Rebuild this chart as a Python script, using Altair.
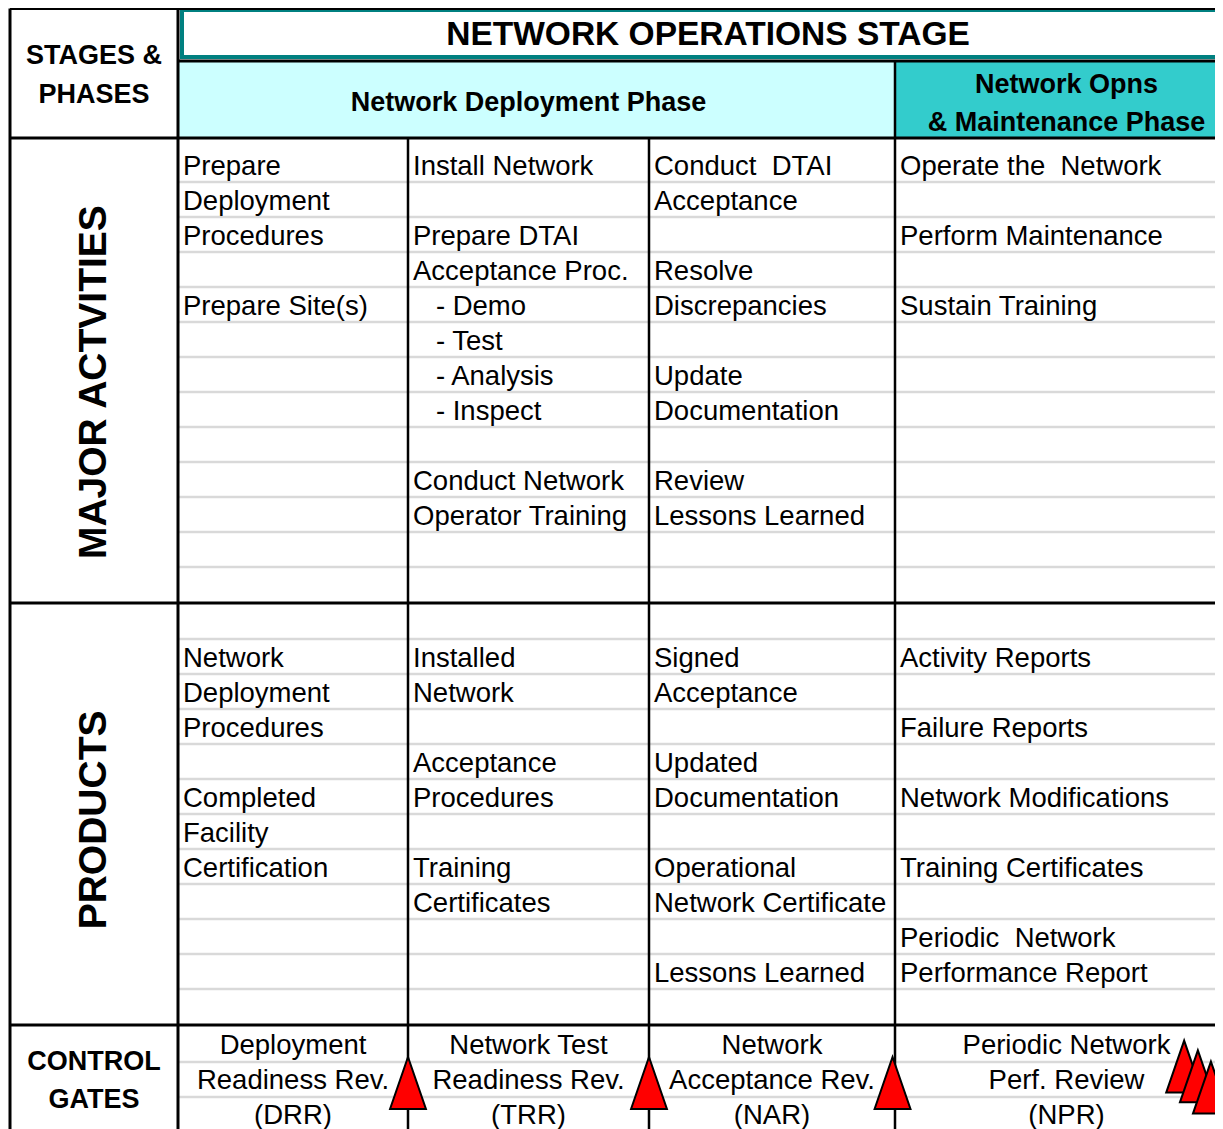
import altair as alt
import pandas as pd

# ---------------- content ----------------
stage_title = "NETWORK OPERATIONS STAGE"
corner_lines = ["STAGES &", "PHASES"]
deploy_phase = ["Network Deployment Phase"]
opns_phase = ["Network Opns", "& Maintenance Phase"]
section_titles = ["MAJOR ACTVITIES", "PRODUCTS"]
gate_title = ["CONTROL", "GATES"]

NB = "\u00a0"
IND = "\u200b" + NB * 3
act_c1 = ["Prepare", "Deployment", "Procedures", "", "Prepare Site(s)"]
act_c2 = ["Install Network", "", "Prepare DTAI", "Acceptance Proc.",
          IND + "- Demo", IND + "- Test", IND + "- Analysis", IND + "- Inspect", "",
          "Conduct Network", "Operator Training"]
act_c3 = ["Conduct" + NB + " DTAI", "Acceptance", "", "Resolve", "Discrepancies", "",
          "Update", "Documentation", "", "Review", "Lessons Learned"]
act_c4 = ["Operate the" + NB + " Network", "", "Perform Maintenance", "", "Sustain Training"]

prod_c1 = ["", "Network", "Deployment", "Procedures", "", "Completed", "Facility", "Certification"]
prod_c2 = ["", "Installed", "Network", "", "Acceptance", "Procedures", "", "Training", "Certificates"]
prod_c3 = ["", "Signed", "Acceptance", "", "Updated", "Documentation", "", "Operational",
           "Network Certificate", "", "Lessons Learned"]
prod_c4 = ["", "Activity Reports", "", "Failure Reports", "", "Network Modifications", "",
           "Training Certificates", "", "Periodic" + NB + " Network", "Performance Report"]

gate_c1 = ["Deployment", "Readiness Rev.", "(DRR)"]
gate_c2 = ["Network Test", "Readiness Rev.", "(TRR)"]
gate_c3 = ["Network", "Acceptance Rev.", "(NAR)"]
gate_c4 = ["Periodic Network", "Perf. Review", "(NPR)"]

# gate markers: position in column-edge units, and in gate-row units
gate_marker_col = [2, 3, 3.99, 4.843, 4.883, 4.921]
gate_marker_row = [1.6, 1.6, 1.6, 1.13, 1.41, 1.73]

# ---------------- layout (reference pixel grid) ----------------
W, H = 1207, 1121
X0, Y0 = 8, 8
COL_EDGES = [10, 178, 408, 649, 895, 1238]
RIGHT = 1300
TOP, TITLE_BOT, PHASE_BOT = 8.5, 61, 138
BOTTOM = 1200


def edges(start, heights):
    out = [start]
    for h in heights:
        out.append(out[-1] + h)
    return out


act_edges = edges(PHASE_BOT, [44] + [35] * 11 + [36])
prod_edges = edges(act_edges[-1], [36] + [35] * 10 + [36])
gate_edges = edges(prod_edges[-1], [37, 35, 35])


def col_x(u):
    i = int(u)
    if i >= len(COL_EDGES) - 1:
        return COL_EDGES[-1]
    f = u - i
    return COL_EDGES[i] + f * (COL_EDGES[i + 1] - COL_EDGES[i])


def row_y(u, e):
    i = int(u)
    f = u - i
    return e[i] + f * (e[i + 1] - e[i])


# fills
fills = pd.DataFrame([
    dict(x=COL_EDGES[1], x2=COL_EDGES[4], y=TITLE_BOT, y2=PHASE_BOT, fill="#CCFFFF"),
    dict(x=COL_EDGES[4], x2=RIGHT, y=TITLE_BOT, y2=PHASE_BOT, fill="#33CCCC"),
])
title_box = pd.DataFrame([dict(x=COL_EDGES[1] + 4, x2=RIGHT, y=10, y2=57)])

# gray row lines
gray = []
for e in (act_edges, prod_edges, gate_edges):
    for yv in e[1:-1]:
        gray.append(dict(x=COL_EDGES[1], x2=RIGHT, y=yv, y2=yv))
gray = pd.DataFrame(gray)

# black lines
black = [
    dict(x=COL_EDGES[0], x2=COL_EDGES[0], y=TOP, y2=BOTTOM, w=3),
    dict(x=COL_EDGES[1], x2=COL_EDGES[1], y=TOP, y2=BOTTOM, w=3),
    dict(x=COL_EDGES[0], x2=RIGHT, y=TOP, y2=TOP, w=3),
    dict(x=COL_EDGES[1], x2=RIGHT, y=TITLE_BOT, y2=TITLE_BOT, w=3),
    dict(x=COL_EDGES[4], x2=COL_EDGES[4], y=TITLE_BOT, y2=BOTTOM, w=2.5),
    dict(x=COL_EDGES[2], x2=COL_EDGES[2], y=PHASE_BOT, y2=BOTTOM, w=2.5),
    dict(x=COL_EDGES[3], x2=COL_EDGES[3], y=PHASE_BOT, y2=BOTTOM, w=2.5),
]
for yv in (PHASE_BOT, act_edges[-1], prod_edges[-1]):
    black.append(dict(x=COL_EDGES[0], x2=RIGHT, y=yv, y2=yv, w=3))
black = pd.DataFrame(black)

# body text (left aligned)
body = []
for e, cols in ((act_edges, [act_c1, act_c2, act_c3, act_c4]),
                (prod_edges, [prod_c1, prod_c2, prod_c3, prod_c4])):
    for ci, col in enumerate(cols):
        for r, t in enumerate(col):
            if t:
                body.append(dict(x=COL_EDGES[ci + 1], y=e[r + 1] - 7, t=t))
body = pd.DataFrame(body)

# gate text (centered)
gtext = []
for ci, col in enumerate([gate_c1, gate_c2, gate_c3, gate_c4]):
    for r, t in enumerate(col):
        gtext.append(dict(x=(COL_EDGES[ci + 1] + COL_EDGES[ci + 2]) / 2,
                          y=gate_edges[r + 1] - 8, t=t))
gtext = pd.DataFrame(gtext)

# bold headers
lab_x = (COL_EDGES[0] + COL_EDGES[1]) / 2
heads = [dict(x=(COL_EDGES[1] + COL_EDGES[5]) / 2, y=45, t=stage_title, s=33.5)]
heads += [dict(x=lab_x, y=64 + 39 * i, t=t, s=27) for i, t in enumerate(corner_lines)]
heads += [dict(x=(COL_EDGES[2] + COL_EDGES[3]) / 2, y=111, t=deploy_phase[0], s=27)]
heads += [dict(x=(COL_EDGES[4] + COL_EDGES[5]) / 2, y=93 + 38 * i, t=t, s=27)
          for i, t in enumerate(opns_phase)]
heads += [dict(x=lab_x, y=1070 + 38 * i, t=t, s=27) for i, t in enumerate(gate_title)]
heads = pd.DataFrame(heads)

sections = pd.DataFrame([
    dict(x=lab_x, y=act_edges[0] + 0.525 * (act_edges[-1] - act_edges[0]), t=section_titles[0]),
    dict(x=lab_x, y=prod_edges[0] + 0.514 * (prod_edges[-1] - prod_edges[0]), t=section_titles[1]),
])

markers = pd.DataFrame([
    dict(x=col_x(c), y=row_y(r, gate_edges)) for c, r in zip(gate_marker_col, gate_marker_row)
])

xsc = alt.Scale(domain=[X0, X0 + W], nice=False, zero=False)
ysc = alt.Scale(domain=[Y0, Y0 + H], nice=False, zero=False, reverse=True)
X = alt.X("x:Q", scale=xsc, axis=None)
Y = alt.Y("y:Q", scale=ysc, axis=None)
FONT = "Liberation Sans"

l_fill = alt.Chart(fills).mark_rect().encode(
    x=X, x2="x2:Q", y=Y, y2="y2:Q", color=alt.Color("fill:N", scale=None))
l_box = alt.Chart(title_box).mark_rect(fillOpacity=0, stroke="#008080", strokeWidth=4).encode(
    x=X, x2="x2:Q", y=Y, y2="y2:Q")
l_gray = alt.Chart(gray).mark_rule(color="#d9d9d9", strokeWidth=2.5).encode(
    x=X, x2="x2:Q", y=Y, y2="y2:Q")
l_black = alt.Chart(black).mark_rule(color="black").encode(
    x=X, x2="x2:Q", y=Y, y2="y2:Q", strokeWidth=alt.StrokeWidth("w:Q", scale=None))
l_body = alt.Chart(body).mark_text(align="left", baseline="alphabetic", dx=5, font=FONT,
                                   fontSize=27.5, color="black").encode(x=X, y=Y, text="t:N")
l_gate = alt.Chart(gtext).mark_text(align="center", baseline="alphabetic", font=FONT,
                                    fontSize=27.5, color="black").encode(x=X, y=Y, text="t:N")
l_head = alt.Chart(heads).mark_text(align="center", baseline="alphabetic", font=FONT,
                                    fontWeight="bold", color="black").encode(
    x=X, y=Y, text="t:N", size=alt.Size("s:Q", scale=None))
l_sec = alt.Chart(sections).mark_text(align="center", baseline="middle", font=FONT,
                                      fontWeight="bold", fontSize=39, angle=270,
                                      color="black").encode(x=X, y=Y, text="t:N")
l_mark = alt.Chart(markers).mark_point(shape="M0,-1L0.69,1L-0.69,1Z", size=2704, filled=True,
                                       fill="#FF0000", stroke="black", strokeWidth=2,
                                       opacity=1).encode(x=X, y=Y)

chart = alt.layer(l_fill, l_box, l_gray, l_black, l_body, l_gate, l_head, l_sec, l_mark).properties(
    width=W, height=H, padding=0,
    autosize=alt.AutoSizeParams(type="none"),
).configure_view(stroke=None)

chart.save("out.html", embed_options={"renderer": "svg", "actions": False})
